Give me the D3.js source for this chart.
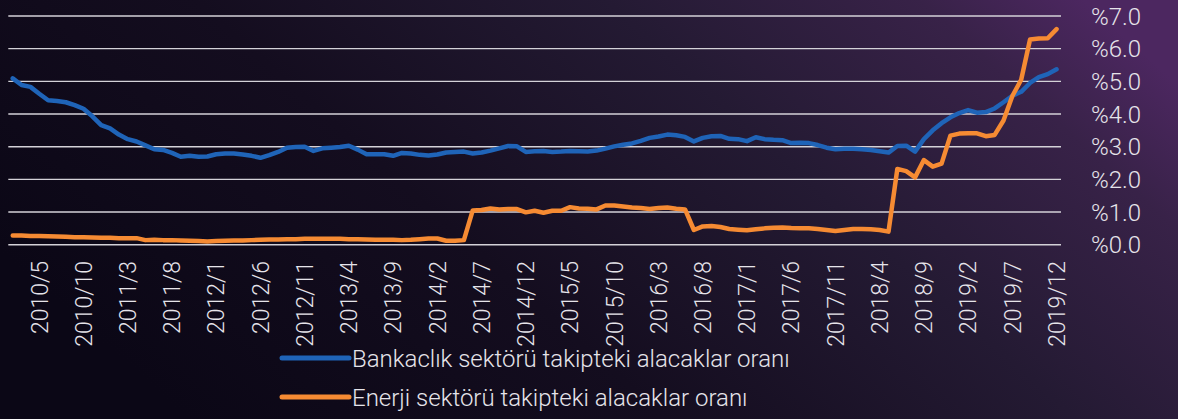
<!DOCTYPE html>
<html>
<head>
<meta charset="utf-8">
<script src="https://cdn.jsdelivr.net/npm/d3@7"></script>
<style>
  body { margin: 0; background: #0b0716; }
  svg { display: block; }
  text { font-family: Roboto, "Liberation Sans", sans-serif; font-weight: 300; fill: #e6e4ea; }
</style>
</head>
<body>
<svg id="chart"></svg>
<script>
// Takipteki alacaklar oranı, aylık (2010/2 - 2019/12)
const startYear = 2010, startMonth = 2, monthCount = 119;

const bankValues = [
  5.09, 4.89, 4.83, 4.62, 4.42, 4.40, 4.36, 4.27, 4.16, 3.93,
  3.66, 3.56, 3.37, 3.23, 3.16, 3.04, 2.92, 2.90, 2.81, 2.69,
  2.72, 2.69, 2.70, 2.77, 2.79, 2.79, 2.76, 2.72, 2.66, 2.74,
  2.84, 2.97, 2.99, 3.00, 2.87, 2.95, 2.97, 2.99, 3.03, 2.91,
  2.77, 2.77, 2.77, 2.72, 2.81, 2.79, 2.75, 2.73, 2.76, 2.82,
  2.84, 2.85, 2.79, 2.82, 2.88, 2.95, 3.02, 3.01, 2.84, 2.86,
  2.87, 2.84, 2.85, 2.87, 2.86, 2.85, 2.88, 2.94, 3.01, 3.06,
  3.10, 3.18, 3.27, 3.31, 3.37, 3.35, 3.30, 3.16, 3.27, 3.32,
  3.33, 3.24, 3.23, 3.17, 3.29, 3.23, 3.21, 3.20, 3.11, 3.12,
  3.11, 3.05, 2.97, 2.92, 2.94, 2.94, 2.92, 2.90, 2.86, 2.82,
  3.02, 3.03, 2.85, 3.23, 3.50, 3.72, 3.90, 4.03, 4.12, 4.04,
  4.06, 4.17, 4.36, 4.56, 4.68, 4.95, 5.13, 5.22, 5.37
];

const energyValues = [
  0.28, 0.28, 0.27, 0.27, 0.26, 0.25, 0.24, 0.23, 0.23, 0.22,
  0.21, 0.21, 0.20, 0.20, 0.20, 0.14, 0.15, 0.14, 0.14, 0.13,
  0.12, 0.11, 0.10, 0.11, 0.12, 0.13, 0.13, 0.14, 0.15, 0.16,
  0.16, 0.17, 0.17, 0.18, 0.18, 0.18, 0.18, 0.18, 0.17, 0.17,
  0.16, 0.15, 0.15, 0.15, 0.14, 0.15, 0.17, 0.19, 0.19, 0.12,
  0.12, 0.14, 1.05, 1.06, 1.11, 1.08, 1.09, 1.09, 0.99, 1.04,
  0.98, 1.04, 1.04, 1.15, 1.11, 1.10, 1.08, 1.20, 1.20, 1.17,
  1.14, 1.12, 1.09, 1.12, 1.14, 1.10, 1.08, 0.45, 0.56, 0.57,
  0.54, 0.48, 0.46, 0.44, 0.47, 0.50, 0.52, 0.53, 0.51, 0.50,
  0.50, 0.48, 0.45, 0.42, 0.45, 0.48, 0.48, 0.47, 0.45, 0.40,
  2.32, 2.25, 2.06, 2.59, 2.39, 2.48, 3.34, 3.40, 3.41, 3.41,
  3.32, 3.36, 3.80, 4.55, 5.05, 6.28, 6.31, 6.32, 6.60
];

const yTicks = [0, 1, 2, 3, 4, 5, 6, 7];
const seriesNames = [
  "Bankaclık sektörü takipteki alacaklar oranı",
  "Enerji sektörü takipteki alacaklar oranı"
];
const seriesColors = ["#1f64b8", "#f68b33"];

const months = d3.range(monthCount).map(i => {
  const m = startMonth - 1 + i;
  return `${startYear + Math.floor(m / 12)}/${(m % 12) + 1}`;
});
const tickLabels = months.filter((d, i) => i % 5 === 3);

const width = 1178, height = 419;

function drawChart() {
  const svg = d3.select("#chart")
    .attr("width", width)
    .attr("height", height);

  // background gradient
  const defs = svg.append("defs");
  const lin = defs.append("linearGradient").attr("id", "bg")
    .attr("x1", "0").attr("y1", "0.6").attr("x2", "1").attr("y2", "0.2");
  lin.append("stop").attr("offset", "0%").attr("stop-color", "#0b0716");
  lin.append("stop").attr("offset", "35%").attr("stop-color", "#140d1f");
  lin.append("stop").attr("offset", "65%").attr("stop-color", "#241a33");
  lin.append("stop").attr("offset", "88%").attr("stop-color", "#382248");
  lin.append("stop").attr("offset", "100%").attr("stop-color", "#4c2760");
  svg.append("rect").attr("width", width).attr("height", height).attr("fill", "url(#bg)");

  const x = d3.scalePoint()
    .domain(months)
    .range([8.3, 1061])
    .padding(0.5);

  const y = d3.scaleLinear()
    .domain([0, 7])
    .range([244.7, 16]);

  // gridlines
  svg.append("g")
    .selectAll("line")
    .data(yTicks)
    .enter()
    .append("line")
    .attr("x1", 8.3)
    .attr("x2", 1061)
    .attr("y1", d => y(d))
    .attr("y2", d => y(d))
    .attr("stroke", "#d4d2d8")
    .attr("stroke-width", 1.4);

  // y labels on the right
  svg.append("g")
    .selectAll("text")
    .data(yTicks)
    .enter()
    .append("text")
    .attr("x", 1091)
    .attr("y", d => y(d))
    .attr("dy", "0.36em")
    .style("font-size", "24px")
    .text(d => "%" + d.toFixed(1));

  // x labels, rotated
  svg.append("g")
    .selectAll("text")
    .data(tickLabels)
    .enter()
    .append("text")
    .attr("transform", d => `translate(${x(d)},261) rotate(-90)`)
    .attr("dy", "0.36em")
    .style("text-anchor", "end")
    .style("font-size", "23px")
    .text(d => d);

  // lines
  const line = d3.line()
    .x((d, i) => x(months[i]))
    .y(d => y(d));

  [bankValues, energyValues].forEach((vals, k) => {
    svg.append("path")
      .datum(vals)
      .attr("d", line)
      .attr("fill", "none")
      .attr("stroke", seriesColors[k])
      .attr("stroke-width", 4.5)
      .attr("stroke-linejoin", "round")
      .attr("stroke-linecap", "round");
  });

  // legend
  const legend = svg.append("g")
    .selectAll("g")
    .data(seriesNames)
    .enter()
    .append("g")
    .attr("transform", (d, i) => `translate(282,${358 + i * 39})`);

  legend.append("line")
    .attr("x1", 0).attr("x2", 67)
    .attr("stroke", (d, i) => seriesColors[i])
    .attr("stroke-width", 5)
    .attr("stroke-linecap", "round");

  legend.append("text")
    .attr("x", 70)
    .attr("dy", "0.36em")
    .style("font-size", "24px")
    .text(d => d);
}

window.onload = drawChart;
</script>
</body>
</html>
